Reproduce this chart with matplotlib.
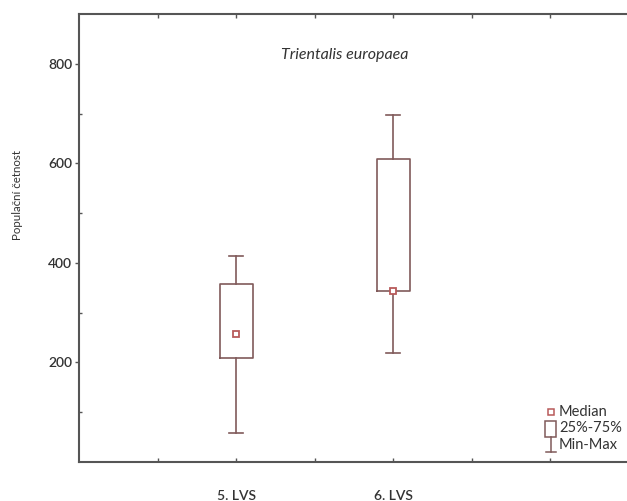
import matplotlib
matplotlib.use("Agg")
import matplotlib.pyplot as plt
from matplotlib.patches import Rectangle
from matplotlib.lines import Line2D

groups = ["5. LVS", "6. LVS"]
positions = [2, 4]
mins = [58, 218]
q1 = [208, 344]
medians = [258, 344]
q3 = [358, 608]
maxs = [414, 698]

LINE = "#805a5a"
MED = "#b85a5a"
TXT = "#333333"

plt.rcParams["font.family"] = ["Lato", "DejaVu Sans"]

fig = plt.figure(figsize=(6.27, 5.01), dpi=100)
ax = fig.add_axes([0.126, 0.078, 0.877, 0.894])

stats = []
for i in range(len(groups)):
    stats.append({"whislo": mins[i], "q1": q1[i], "med": medians[i],
                  "q3": q3[i], "whishi": maxs[i], "label": groups[i]})

ax.bxp(stats, positions=positions, widths=0.42, capwidths=0.18,
       showfliers=False,
       boxprops=dict(color=LINE, linewidth=1.2),
       whiskerprops=dict(color=LINE, linewidth=1.2),
       capprops=dict(color=LINE, linewidth=1.2),
       medianprops=dict(linestyle="none"))
ax.plot(positions, medians, "s", mfc="white", mec=MED, ms=5, mew=1.3, zorder=5)

ax.set_xlim(0, 7)
ax.set_ylim(0, 900)
ax.set_xticks([1, 2, 3, 4, 5, 6])
ax.set_xticklabels(["", groups[0], "", groups[1], "", ""])
ax.set_yticks([200, 400, 600, 800])
ax.set_yticks([100, 300, 500, 700], minor=True)

ax.tick_params(axis="x", direction="in", length=3, width=1, top=True,
               pad=20, labelsize=10, labelcolor=TXT, color="#555555")
ax.tick_params(axis="y", which="major", direction="out", length=3, width=1,
               pad=2, labelsize=10, labelcolor=TXT, color="#555555")
ax.tick_params(axis="y", which="minor", direction="in", length=2, width=1,
               color="#555555")
for lab in ax.get_xticklabels() + ax.get_yticklabels():
    lab.set_fontweight("semibold")

for side in ["left", "bottom", "top", "right"]:
    ax.spines[side].set_color("#555555")
    ax.spines[side].set_linewidth(1.5)

ax.text(0.484, 0.908, "Trientalis europaea", transform=ax.transAxes,
        ha="center", va="center", fontsize=11.5, style="italic", color=TXT)

fig.text(0.028, 0.61, "Populační četnost", rotation=90, ha="center",
         va="center", fontsize=8.3, color=TXT)

# hand-drawn legend in the bottom right corner
tr = ax.transAxes
ax.add_line(Line2D([0.858], [0.112], marker="s", mfc="white", mec=MED,
                   ms=4, mew=1.1, transform=tr))
ax.add_patch(Rectangle((0.848, 0.056), 0.02, 0.035, fill=False,
                       edgecolor=LINE, linewidth=1.1, transform=tr))
ax.add_line(Line2D([0.858, 0.858], [0.056, 0.022], color=LINE, lw=1.1,
                   transform=tr))
ax.add_line(Line2D([0.849, 0.867], [0.022, 0.022], color=LINE, lw=1.1,
                   transform=tr))
for y, s in zip([0.112, 0.076, 0.038], ["Median", "25%-75%", "Min-Max"]):
    ax.text(0.873, y, s, transform=tr, ha="left", va="center",
            fontsize=10.5, color=TXT)

fig.savefig("out.png", dpi=100)
